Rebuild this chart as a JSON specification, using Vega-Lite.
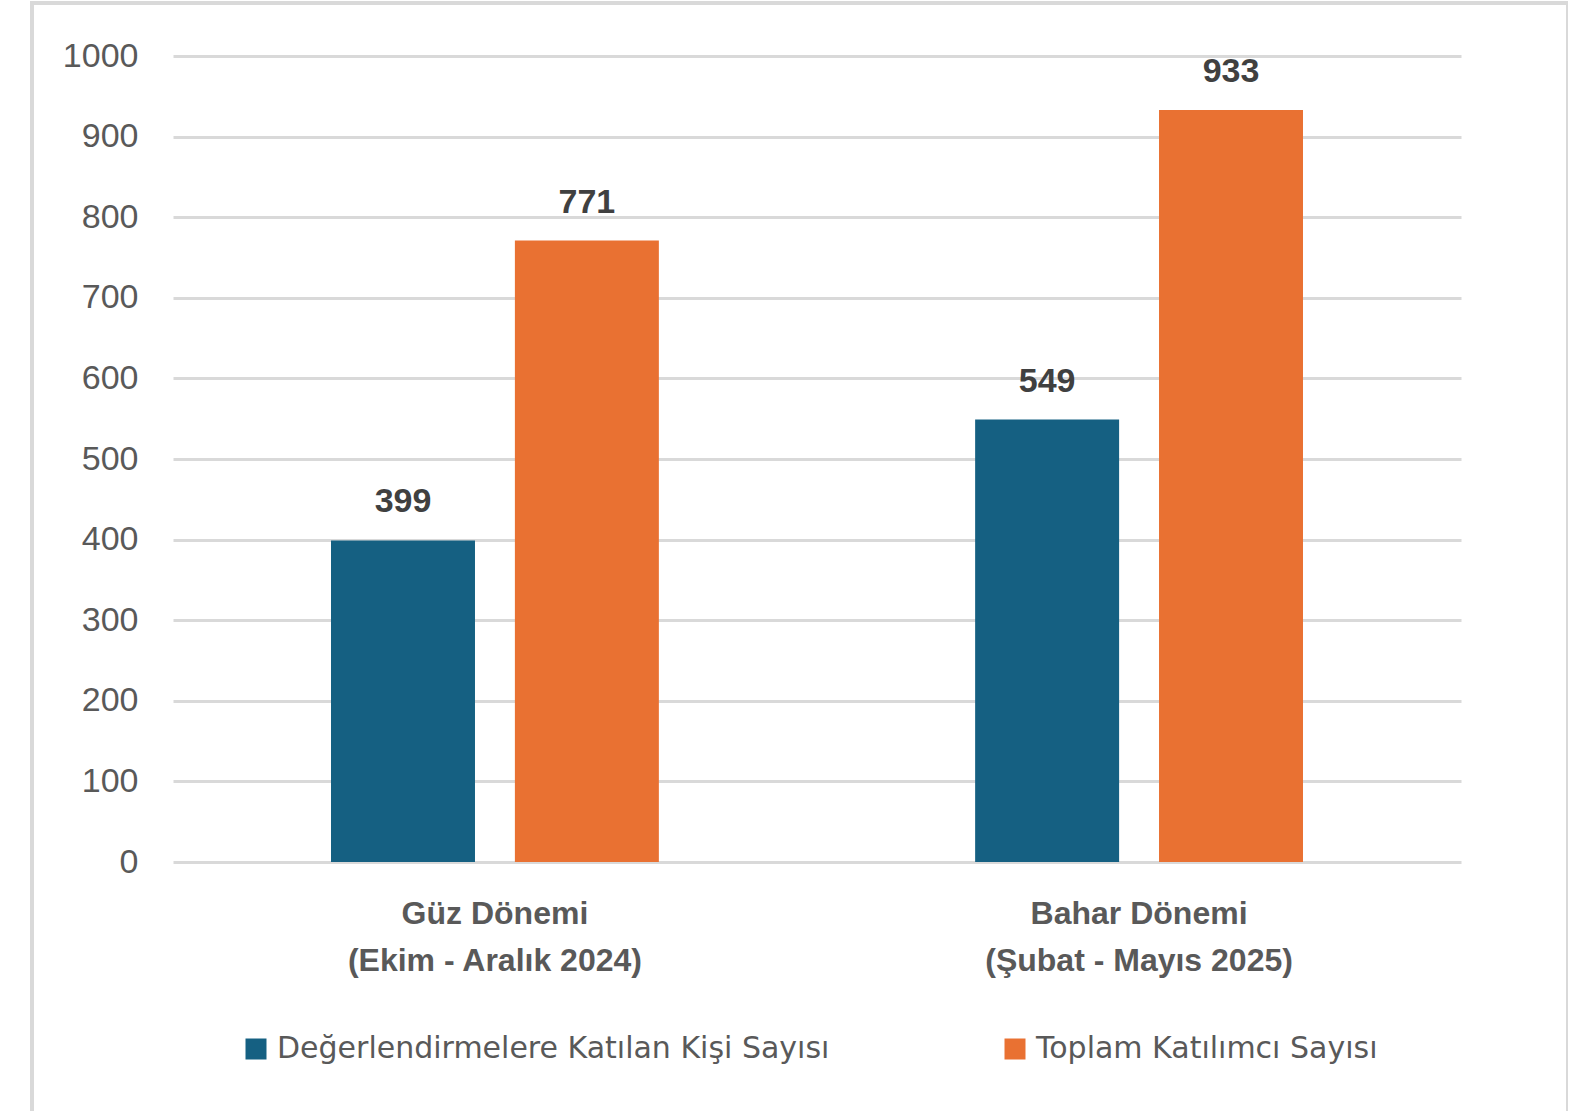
{
  "$schema": "https://vega.github.io/schema/vega-lite/v6.json",
  "width": 1536,
  "height": 1120,
  "padding": {"left": 32, "top": 3, "right": 0, "bottom": 0},
  "background": "white",
  "config": {
    "view": {"stroke": "#d9d9d9", "strokeWidth": 4}
  },
  "data": {
    "values": [
      {"donem": "Güz Dönemi\n(Ekim - Aralık 2024)", "seri": "Değerlendirmelere Katılan Kişi Sayısı", "sayi": 399},
      {"donem": "Güz Dönemi\n(Ekim - Aralık 2024)", "seri": "Toplam Katılımcı Sayısı", "sayi": 771},
      {"donem": "Bahar Dönemi\n(Şubat - Mayıs 2025)", "seri": "Değerlendirmelere Katılan Kişi Sayısı", "sayi": 549},
      {"donem": "Bahar Dönemi\n(Şubat - Mayıs 2025)", "seri": "Toplam Katılımcı Sayısı", "sayi": 933}
    ]
  },
  "encoding": {
    "x": {
      "field": "donem",
      "type": "nominal",
      "scale": {
        "domain": ["Güz Dönemi\n(Ekim - Aralık 2024)", "Bahar Dönemi\n(Şubat - Mayıs 2025)"],
        "range": [141, 1429],
        "paddingInner": 0.491,
        "paddingOuter": 0.2453
      },
      "axis": {
        "orient": "bottom",
        "offset": -261,
        "title": null,
        "domain": false,
        "ticks": false,
        "grid": false,
        "labelExpr": "split(datum.label, '\\n')",
        "labelAngle": 0,
        "labelPadding": 61,
        "labelBaseline": "alphabetic",
        "labelLineHeight": 47,
        "labelFont": "Liberation Sans",
        "labelFontSize": 32,
        "labelFontWeight": "bold",
        "labelColor": "#595959",
        "labelLimit": 0
      }
    },
    "xOffset": {
      "field": "seri",
      "type": "nominal",
      "scale": {
        "domain": ["Değerlendirmelere Katılan Kişi Sayısı", "Toplam Katılımcı Sayısı"],
        "paddingInner": 0.217,
        "paddingOuter": 0
      }
    },
    "y": {
      "field": "sayi",
      "type": "quantitative",
      "scale": {"domain": [0, 1000], "nice": false, "range": [859, 53]},
      "axis": {
        "title": null,
        "values": [0, 100, 200, 300, 400, 500, 600, 700, 800, 900, 1000],
        "format": "d",
        "offset": -141,
        "labelPadding": 35,
        "domain": false,
        "ticks": false,
        "grid": true,
        "gridColor": "#d9d9d9",
        "gridWidth": 3,
        "labelFont": "Liberation Sans",
        "labelFontSize": 34,
        "labelColor": "#595959",
        "labelLimit": 0
      }
    }
  },
  "layer": [
    {
      "mark": {"type": "bar"},
      "encoding": {
        "color": {
          "field": "seri",
          "type": "nominal",
          "scale": {
            "domain": ["Değerlendirmelere Katılan Kişi Sayısı", "Toplam Katılımcı Sayısı"],
            "range": ["#156082", "#E97132"]
          },
          "legend": {
            "orient": "none",
            "legendX": 209,
            "legendY": 1031,
            "direction": "horizontal",
            "title": null,
            "padding": 0,
            "symbolType": "square",
            "symbolSize": 441,
            "symbolStrokeWidth": 0,
            "labelFont": "DejaVu Sans",
            "labelFontSize": 30,
            "labelColor": "#595959",
            "labelOffset": 6,
            "columnPadding": 170,
            "labelLimit": 0
          }
        }
      }
    },
    {
      "mark": {
        "type": "text",
        "dy": -28,
        "baseline": "alphabetic",
        "font": "Liberation Sans",
        "fontSize": 34,
        "fontWeight": "bold",
        "fill": "#404040"
      },
      "encoding": {
        "text": {"field": "sayi", "type": "quantitative"}
      }
    }
  ]
}
